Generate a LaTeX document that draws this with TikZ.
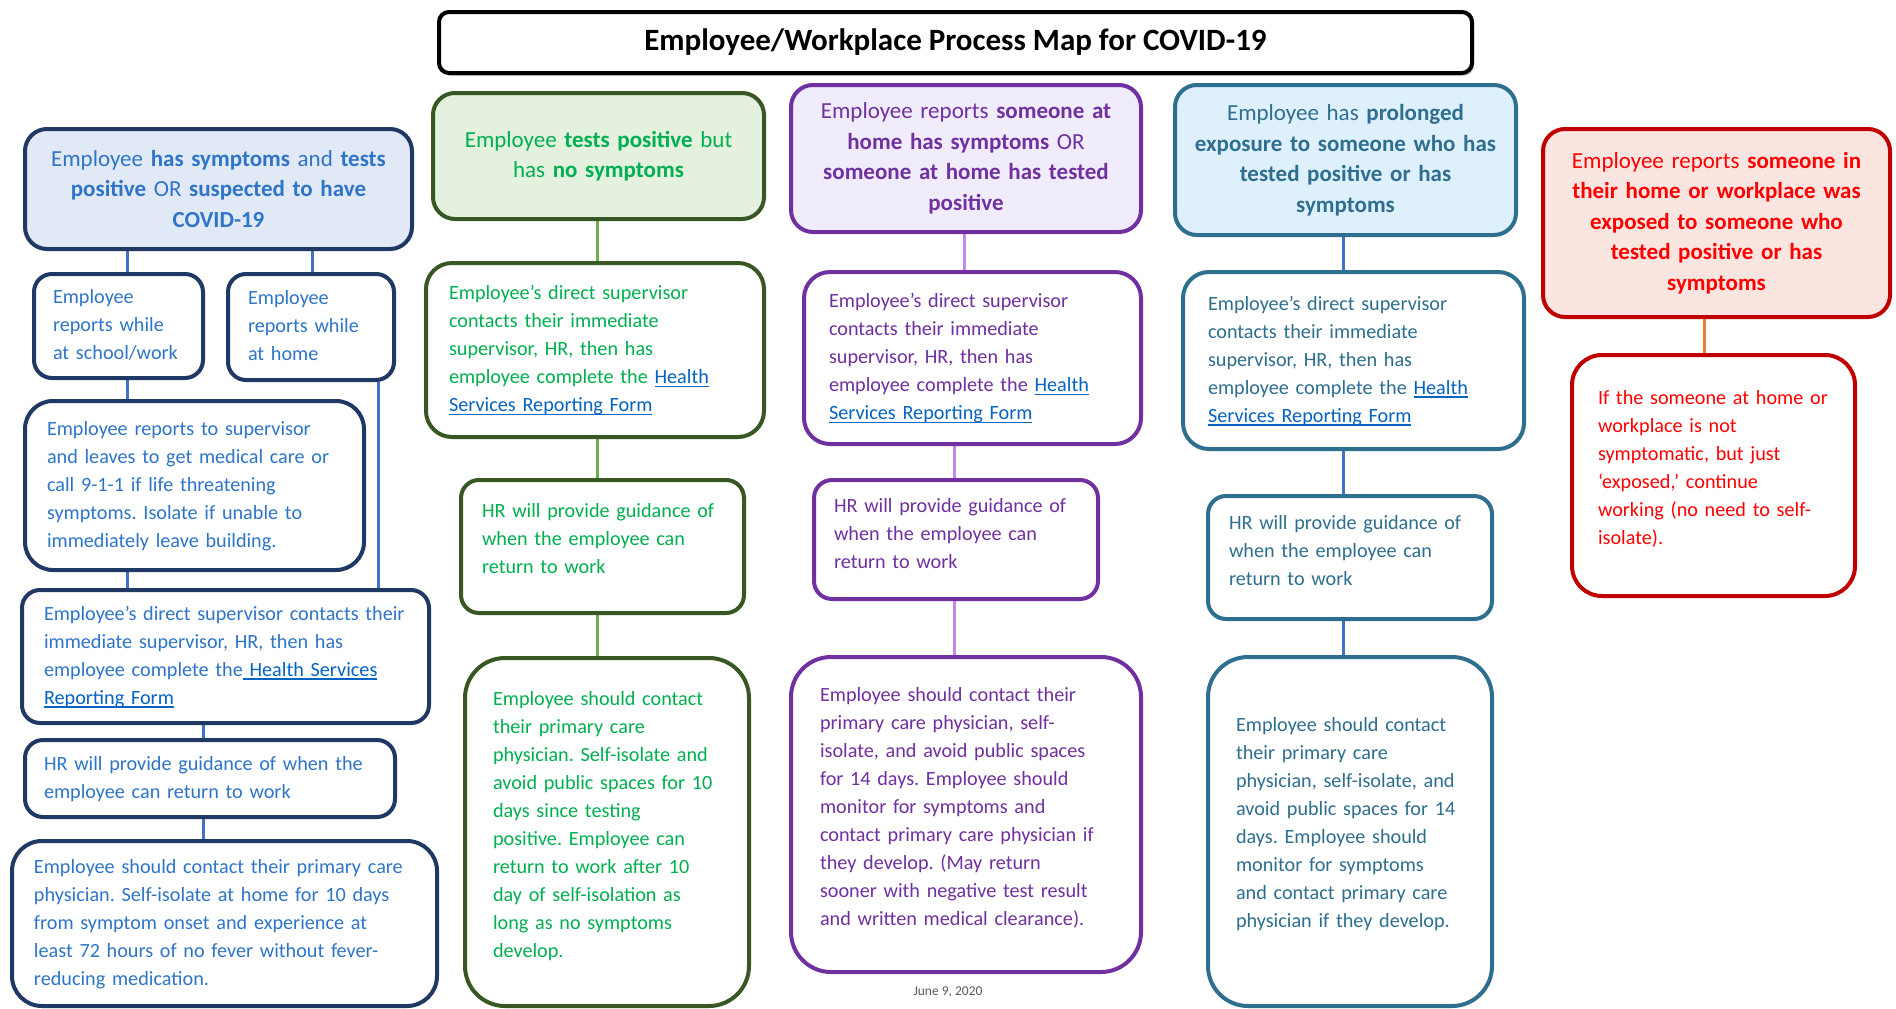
\documentclass[tikz,border=0pt]{standalone}
\usepackage{fontspec}
\setmainfont{Carlito}
\usetikzlibrary{backgrounds,shadows}
\frenchspacing

\definecolor{aText}{RGB}{46,117,200}
\definecolor{aBorder}{RGB}{31,56,100}
\definecolor{aLine}{RGB}{68,114,196}
\definecolor{aFill}{RGB}{226,233,246}
\definecolor{bText}{RGB}{0,176,80}
\definecolor{bBorder}{RGB}{56,87,35}
\definecolor{bLine}{RGB}{112,173,71}
\definecolor{bFill}{RGB}{228,241,222}
\definecolor{cText}{RGB}{112,48,160}
\definecolor{cBorder}{RGB}{112,48,160}
\definecolor{cLine}{RGB}{190,140,240}
\definecolor{cFill}{RGB}{240,236,252}
\definecolor{dText}{RGB}{46,110,142}
\definecolor{dBorder}{RGB}{46,110,142}
\definecolor{dLine}{RGB}{68,114,196}
\definecolor{dFill}{RGB}{222,240,252}
\definecolor{eText}{RGB}{255,0,0}
\definecolor{eBorder}{RGB}{192,0,0}
\definecolor{eLine}{RGB}{237,125,49}
\definecolor{eFill}{RGB}{251,229,225}
\definecolor{linkBlue}{RGB}{5,99,193}
\definecolor{dateGray}{RGB}{89,89,89}

\newcommand\bodyfont{\fontsize{20.2}{28}\selectfont}
\newcommand\headfont{\fontsize{23}{30.5}\selectfont}
\newsavebox\lnkbox
\newcommand\lnk[1]{\textcolor{linkBlue}{\sbox\lnkbox{#1}\rlap{\rule[-3.5pt]{\wd\lnkbox}{1.4pt}}\usebox\lnkbox}}
\newcommand\tl[1]{\begin{tabular}{@{}l@{}}#1\end{tabular}}

\tikzset{
  box/.style={draw, rounded corners=18pt, line width=4pt, fill=white, align=left,
    anchor=north west, inner ysep=0pt, font=\bodyfont},
  headbox/.style={draw, rounded corners=22pt, line width=4pt, align=center,
    anchor=north west, inner ysep=0pt, inner xsep=6pt, font=\headfont},
  bigbox/.style={box, rounded corners=40pt},
  acol/.style={draw=aBorder, text=aText},
  bcol/.style={draw=bBorder, text=bText},
  ccol/.style={draw=cBorder, text=cText},
  dcol/.style={draw=dBorder, text=dText},
  ecol/.style={draw=eBorder, text=eText},
  conn/.style={line width=3pt},
}

\begin{document}
\begin{tikzpicture}[x=1pt,y=-1pt]
\useasboundingbox (0,0) rectangle (1896,1009);

% title
\node[draw=black, line width=4pt, rounded corners=10pt, fill=white, anchor=north west,
  minimum width=1033pt, minimum height=61pt, inner sep=0pt,
  drop shadow={shadow xshift=2pt, shadow yshift=-3pt, fill=gray!70},
  font=\fontsize{31}{36}\selectfont\bfseries] (title) at (437,10)
  {Employee/Workplace Process Map for COVID-19};

% column A
\node[headbox, acol, fill=aFill, text width=375pt, minimum height=120pt] (A1) at (23,127)
  {Employee \textbf{has symptoms} and \textbf{tests}\\ \textbf{positive} OR \textbf{suspected to have}\\ \textbf{COVID-19}};
\node[box, acol, text width=131pt, inner xsep=19pt, minimum height=104pt] (A2) at (32,272)
  {\tl{Employee\\ reports while\\ at school/work}};
\node[box, acol, text width=126pt, inner xsep=20pt, minimum height=106pt] (A3) at (226,272)
  {\tl{Employee\\ reports while\\ at home}};
\node[box, acol, rounded corners=28pt, text width=295pt, inner xsep=22pt, minimum height=169pt] (A4) at (23,399)
  {\tl{Employee reports to supervisor\\ and leaves to get medical care or\\ call 9-1-1 if life threatening\\ symptoms. Isolate if unable to\\ immediately leave building.}};
\node[box, acol, text width=363pt, inner xsep=22pt, minimum height=133pt] (A5) at (20,588)
  {\tl{Employee’s direct supervisor contacts their\\ immediate supervisor, HR, then has\\ employee complete the\lnk{ Health Services}\\ \lnk{Reporting Form}}};
\node[box, acol, text width=332pt, inner xsep=19pt, minimum height=77pt] (A6) at (23,738)
  {\tl{HR will provide guidance of when the\\ employee can return to work}};
\node[box, acol, rounded corners=30pt, text width=381pt, inner xsep=22pt, minimum height=165pt] (A7) at (10,839)
  {\tl{Employee should contact their primary care\\ physician. Self-isolate at home for 10 days\\ from symptom onset and experience at\\ least 72 hours of no fever without fever-\\ reducing medication.}};

% column B
\node[headbox, bcol, fill=bFill, text width=319pt, minimum height=126pt] (B1) at (431,91)
  {Employee \textbf{tests positive} but\\ has \textbf{no symptoms}\\[12pt]};
\node[box, bcol, rounded corners=26pt, text width=292pt, inner xsep=23pt, minimum height=174pt] (B2) at (424,261)
  {\tl{Employee’s direct supervisor\\ contacts their immediate\\ supervisor, HR, then has\\ employee complete the \lnk{Health}\\ \lnk{Services Reporting Form}}};
\node[box, bcol, text width=241pt, inner xsep=21pt, minimum height=133pt] (B3) at (459,478)
  {\tl{HR will provide guidance of\\ when the employee can\\ return to work\\[14pt]}};
\node[bigbox, bcol, text width=228pt, inner xsep=28pt, minimum height=348pt] (B4) at (463,656)
  {\tl{Employee should contact\\ their primary care\\ physician. Self-isolate and\\ avoid public spaces for 10\\ days since testing\\ positive. Employee can\\ return to work after 10\\ day of self-isolation as\\ long as no symptoms\\ develop.\\[12pt]}};

% column C
\node[headbox, ccol, fill=cFill, text width=338pt, minimum height=147pt] (C1) at (789,83)
  {Employee reports \textbf{someone at}\\ \textbf{home has symptoms} OR\\ \textbf{someone at home has tested}\\ \textbf{positive}};
\node[box, ccol, rounded corners=26pt, text width=287pt, inner xsep=25pt, minimum height=172pt] (C2) at (802,270)
  {\tl{Employee’s direct supervisor\\ contacts their immediate\\ supervisor, HR, then has\\ employee complete the \lnk{Health}\\ \lnk{Services Reporting Form}}};
\node[box, ccol, text width=244pt, inner xsep=20pt, minimum height=119pt] (C3) at (812,478)
  {\tl{HR will provide guidance of\\ when the employee can\\ return to work\\[10pt]}};
\node[bigbox, ccol, text width=292pt, inner xsep=29pt, minimum height=315pt] (C4) at (789,655)
  {\tl{Employee should contact their\\ primary care physician, self-\\ isolate, and avoid public spaces\\ for 14 days. Employee should\\ monitor for symptoms and\\ contact primary care physician if\\ they develop. (May return\\ sooner with negative test result\\ and written medical clearance).\\[14pt]}};
\node[anchor=north, text=dateGray, font=\fontsize{13.5}{16}\selectfont, inner sep=0pt] (date) at (948,987) {June 9, 2020};

% column D
\node[headbox, dcol, fill=dFill, text width=329pt, minimum height=150pt] (D1) at (1173,83)
  {Employee has \textbf{prolonged}\\ \textbf{exposure to someone who has}\\ \textbf{tested positive or has}\\ \textbf{symptoms}};
\node[box, dcol, rounded corners=26pt, text width=291pt, inner xsep=25pt, minimum height=177pt] (D2) at (1181,270)
  {\tl{Employee’s direct supervisor\\ contacts their immediate\\ supervisor, HR, then has\\ employee complete the \lnk{Health}\\ \lnk{Services Reporting Form}}};
\node[box, dcol, text width=242pt, inner xsep=21pt, minimum height=123pt] (D3) at (1206,494)
  {\tl{HR will provide guidance of\\ when the employee can\\ return to work\\[12pt]}};
\node[bigbox, dcol, text width=228pt, inner xsep=28pt, minimum height=349pt] (D4) at (1206,655)
  {\tl{Employee should contact\\ their primary care\\ physician, self-isolate, and\\ avoid public spaces for 14\\ days. Employee should\\ monitor for symptoms\\ and contact primary care\\ physician if they develop.\\[16pt]}};

% column E
\node[headbox, ecol, fill=eFill, text width=335pt, minimum height=188pt] (E1) at (1541,127)
  {Employee reports \textbf{someone in}\\ \textbf{their home or workplace was}\\ \textbf{exposed to someone who}\\ \textbf{tested positive or has}\\ \textbf{symptoms}};
\node[box, ecol, rounded corners=30pt, text width=231pt, inner xsep=26pt, minimum height=241pt] (E2) at (1570,353)
  {\tl{If the someone at home or\\ workplace is not\\ symptomatic, but just\\ ‘exposed,’ continue\\ working (no need to self-\\ isolate).\\[14pt]}};

% connector x positions
\coordinate (xa1) at (127,0);
\coordinate (xa2) at (312,0);
\coordinate (xa3) at (378,0);
\coordinate (xa4) at (203,0);
\coordinate (xb) at (597,0);
\coordinate (xc1) at (964,0);
\coordinate (xc2) at (954,0);
\coordinate (xd) at (1343,0);
\coordinate (xe) at (1704,0);

\begin{scope}[on background layer]
\fill[white] (0,0) rectangle (1896,1009);
\draw[conn, aLine] (A1.south -| xa1) -- (A2.north -| xa1);
\draw[conn, aLine] (A1.south -| xa2) -- (A3.north -| xa2);
\draw[conn, aLine] (A2.south -| xa1) -- (A4.north -| xa1);
\draw[conn, aLine] (A3.south -| xa3) -- (A5.north -| xa3);
\draw[conn, aLine] (A4.south -| xa1) -- (A5.north -| xa1);
\draw[conn, aLine] (A5.south -| xa4) -- (A6.north -| xa4);
\draw[conn, aLine] (A6.south -| xa4) -- (A7.north -| xa4);
\draw[conn, bLine] (B1.south -| xb) -- (B2.north -| xb);
\draw[conn, bLine] (B2.south -| xb) -- (B3.north -| xb);
\draw[conn, bLine] (B3.south -| xb) -- (B4.north -| xb);
\draw[conn, cLine] (C1.south -| xc1) -- (C2.north -| xc1);
\draw[conn, cLine] (C2.south -| xc2) -- (C3.north -| xc2);
\draw[conn, cLine] (C3.south -| xc2) -- (C4.north -| xc2);
\draw[conn, dLine] (D1.south -| xd) -- (D2.north -| xd);
\draw[conn, dLine] (D2.south -| xd) -- (D3.north -| xd);
\draw[conn, dLine] (D3.south -| xd) -- (D4.north -| xd);
\draw[conn, eLine] (E1.south -| xe) -- (E2.north -| xe);
\end{scope}
\end{tikzpicture}
\end{document}
